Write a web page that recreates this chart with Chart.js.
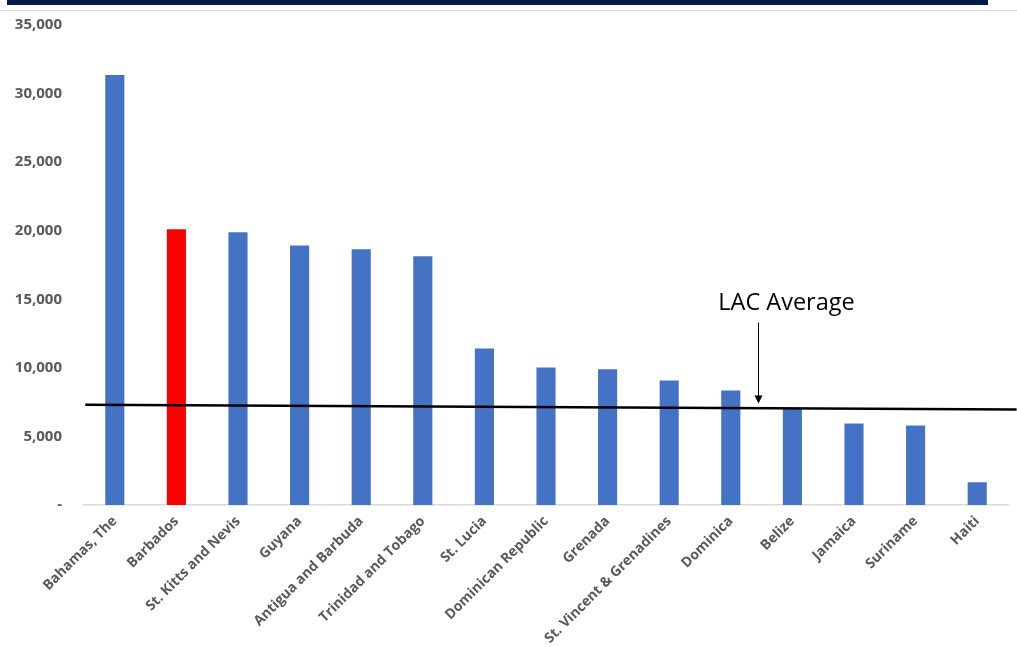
<!DOCTYPE html>
<html>
<head>
<meta charset="utf-8">
<script src="https://cdn.jsdelivr.net/npm/chart.js@4.4.1/dist/chart.umd.min.js"></script>
<style>
  body { margin: 0; background: #fff; }
  #wrap { position: relative; width: 1017px; height: 647px; }
  #topBar { position: absolute; left: 7px; top: 0; width: 981px; height: 5px; background: #021a4a; }
  #topRule { position: absolute; left: 0; top: 10px; width: 1017px; height: 1px; background: #d9d9d9; }
  canvas { position: absolute; left: 0; top: 0; }
</style>
</head>
<body>
<div id="wrap">
  <canvas id="chart" width="1017" height="647"></canvas>
  <div id="topBar"></div>
  <div id="topRule"></div>
</div>
<script>
const countries = ["Bahamas, The", "Barbados", "St. Kitts and Nevis", "Guyana", "Antigua and Barbuda",
  "Trinidad and Tobago", "St. Lucia", "Dominican Republic", "Grenada", "St. Vincent & Grenadines",
  "Dominica", "Belize", "Jamaica", "Suriname", "Haiti"];
const gdpPerCapita = [31350, 20100, 19880, 18930, 18640, 18130, 11420, 10030, 9890, 9080, 8350, 7040, 5950, 5800, 1660];
const highlight = "Barbados";

// LAC average reference line (drawn as a slightly slanted shape, ends in category units)
const lacLineX = [-0.48, 14.64];
const lacLineY = [7310, 6965];
const lacLabel = "LAC Average";
const lacArrowX = 10.44;
const lacArrowFrom = 13310;
const lacArrowTo = 7400;
const lacLabelY = 14700;

const yTicks = [0, 5000, 10000, 15000, 20000, 25000, 30000, 35000];

const barColors = countries.map(c => c === highlight ? "#ff0000" : "#4472c4");
const yFont = { family: "'Open Sans', sans-serif", size: 15, weight: "bold" };
const xFont = { family: "'Open Sans', sans-serif", size: 14, weight: "bold" };

const lacCallout = {
  id: "lacCallout",
  afterDatasetsDraw(chart) {
    const ctx = chart.ctx;
    const xs = chart.scales.xLine, ys = chart.scales.y;
    const x = Math.round(xs.getPixelForValue(lacArrowX)) + 0.5;
    const y0 = ys.getPixelForValue(lacArrowFrom);
    const y1 = ys.getPixelForValue(lacArrowTo);
    ctx.save();
    ctx.strokeStyle = "#000";
    ctx.fillStyle = "#000";
    ctx.lineWidth = 1;
    ctx.beginPath();
    ctx.moveTo(x, y0);
    ctx.lineTo(x, y1 - 6);
    ctx.stroke();
    ctx.beginPath();
    ctx.moveTo(x - 4, y1 - 8);
    ctx.lineTo(x + 4, y1 - 8);
    ctx.lineTo(x, y1);
    ctx.closePath();
    ctx.fill();
    ctx.font = "23.5px 'Open Sans', sans-serif";
    ctx.textAlign = "center";
    ctx.textBaseline = "middle";
    ctx.fillText(lacLabel, x + 28, ys.getPixelForValue(lacLabelY));
    ctx.restore();
  }
};

new Chart(document.getElementById("chart"), {
  data: {
    labels: countries,
    datasets: [{
      type: "bar",
      data: gdpPerCapita,
      backgroundColor: barColors,
      barPercentage: 0.31,
      categoryPercentage: 1,
      grouped: false,
      order: 2
    }, {
      type: "line",
      xAxisID: "xLine",
      data: lacLineX.map((x, i) => ({ x, y: lacLineY[i] })),
      borderColor: "#000",
      borderWidth: 2.5,
      pointRadius: 0,
      clip: false,
      order: 1
    }]
  },
  options: {
    responsive: false,
    animation: false,
    layout: { padding: { top: 25, right: 9, bottom: 0, left: 0 } },
    plugins: { legend: { display: false }, tooltip: { enabled: false } },
    scales: {
      x: {
        grid: { display: false, drawTicks: false },
        border: { display: true, color: "#d9d9d9", width: 1.5 },
        ticks: { color: "#595959", font: xFont, maxRotation: 45, minRotation: 45, padding: 8, autoSkip: false },
        afterFit(s) { s.height = 142; }
      },
      xLine: {
        type: "linear",
        display: false,
        min: -0.5,
        max: 14.5
      },
      y: {
        min: 0,
        max: 35000,
        // hidden tick marks keep the labels 22px off the plot without padding the top
        grid: { display: false, drawTicks: true, tickLength: 22 },
        border: { display: false },
        afterBuildTicks(s) { s.ticks = yTicks.map(v => ({ value: v })); },
        ticks: {
          color: "#595959",
          font: yFont,
          padding: 0,
          callback: v => v === 0 ? "-" : v.toLocaleString("en-US")
        },
        afterFit(s) { s.width = 84; }
      }
    }
  },
  plugins: [lacCallout]
});
</script>
</body>
</html>
